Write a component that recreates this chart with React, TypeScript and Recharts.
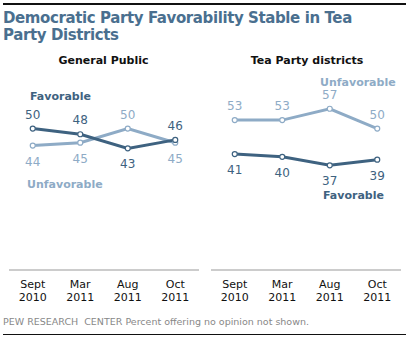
import React from 'react';
import { LineChart, Line, XAxis, YAxis, LabelList } from 'recharts';

const months = ['Sept|2010', 'Mar|2011', 'Aug|2011', 'Oct|2011'];
const gpFavorable = [50, 48, 43, 46];
const gpUnfavorable = [44, 45, 50, 45];
const tpFavorable = [41, 40, 37, 39];
const tpUnfavorable = [53, 53, 57, 50];

// label placement per point: true = above the dot
const gpFavAbove = [true, true, false, true];
const gpUnfavAbove = [false, false, true, false];

const FAV = '#3e6280';
const UNFAV = '#8eabc6';
const FONT = '"DejaVu Sans", Verdana, sans-serif';

const MonthTick = (props: any) => {
  const { x, y, payload } = props;
  const [m, yr] = String(payload.value).split('|');
  return (
    <g>
      <text x={x} y={y + 10} textAnchor="middle" fontSize={11} fill="#111" fontFamily={FONT}>{m}</text>
      <text x={x} y={y + 23} textAnchor="middle" fontSize={11} fill="#111" fontFamily={FONT}>{yr}</text>
    </g>
  );
};

const makeLabel = (above: boolean[], color: string) => (props: any) => {
  const { x, y, value, index } = props;
  const up = above[index];
  return (
    <text x={x} y={up ? y - 10 : y + 20} textAnchor="middle" fontSize={12} fill={color} fontFamily={FONT}>
      {value}
    </text>
  );
};

function Panel({ fav, unfav, favAbove, unfavAbove, left }: any) {
  const data = months.map((m, i) => ({ month: m, fav: fav[i], unfav: unfav[i] }));
  return (
    <div style={{ position: 'absolute', left, top: 0 }}>
      <LineChart width={190} height={310} data={data} margin={{ top: 72, right: 0, left: 0, bottom: 0 }}>
        <YAxis hide domain={[0, 70]} />
        <XAxis
          dataKey="month"
          height={40}
          tick={<MonthTick />}
          tickLine={false}
          axisLine={{ stroke: '#999', strokeWidth: 1 }}
          padding={{ left: 23.75, right: 23.75 }}
          interval={0}
        />
        <Line dataKey="unfav" stroke={UNFAV} strokeWidth={3} isAnimationActive={false}
          dot={{ r: 2.5, fill: '#fff', stroke: UNFAV, strokeWidth: 1.2 }}>
          <LabelList dataKey="unfav" content={makeLabel(unfavAbove, UNFAV)} />
        </Line>
        <Line dataKey="fav" stroke={FAV} strokeWidth={3} isAnimationActive={false}
          dot={{ r: 2.5, fill: '#fff', stroke: FAV, strokeWidth: 1.2 }}>
          <LabelList dataKey="fav" content={makeLabel(favAbove, FAV)} />
        </Line>
      </LineChart>
    </div>
  );
}

const abs = (left: number, top: number, extra: any = {}) => ({
  position: 'absolute' as const, left, top, fontFamily: FONT, whiteSpace: 'nowrap' as const, ...extra,
});

const seriesLabel = (color: string) => ({ fontSize: 11, fontWeight: 'bold', color, lineHeight: '11px' });

export default function App() {
  return (
    <div style={{ position: 'absolute', left: 0, top: 0, width: 411, height: 341, background: '#fff', overflow: 'hidden' }}>
      <div style={{ position: 'absolute', left: 3, top: 3, width: 403, height: 2, background: '#111' }} />
      <div style={abs(3, 10, { fontSize: 15, fontWeight: 'bold', color: '#4a6f8f', lineHeight: '16.5px', letterSpacing: '-0.4px' })}>
        Democratic Party Favorability Stable in Tea<br />Party Districts
      </div>
      <div style={abs(0, 54, { width: 207, textAlign: 'center', fontSize: 11, fontWeight: 'bold', color: '#111' })}>General Public</div>
      <div style={abs(207, 54, { width: 200, textAlign: 'center', fontSize: 11, fontWeight: 'bold', color: '#111' })}>Tea Party districts</div>

      <Panel left={9} fav={gpFavorable} unfav={gpUnfavorable} favAbove={gpFavAbove} unfavAbove={gpUnfavAbove} />
      <Panel left={211} fav={tpFavorable} unfav={tpUnfavorable}
        favAbove={tpFavorable.map(() => false)} unfavAbove={tpUnfavorable.map(() => true)} />

      <div style={abs(30, 91, seriesLabel(FAV))}>Favorable</div>
      <div style={abs(27, 179, seriesLabel(UNFAV))}>Unfavorable</div>
      <div style={abs(320, 77, seriesLabel(UNFAV))}>Unfavorable</div>
      <div style={abs(323, 190, seriesLabel(FAV))}>Favorable</div>

      <div style={abs(3, 316, { fontSize: 9.5, color: '#888' })}>
        PEW RESEARCH&nbsp; CENTER Percent offering no opinion not shown.
      </div>
      <div style={{ position: 'absolute', left: 3, top: 334, width: 403, height: 1, background: '#111' }} />
    </div>
  );
}
